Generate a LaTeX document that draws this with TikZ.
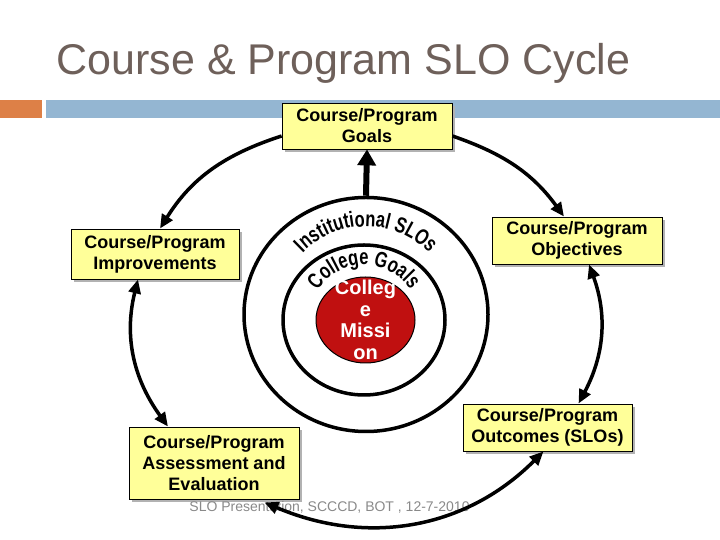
\documentclass[tikz,border=0pt]{standalone}
\usepackage{fontspec}
\setmainfont{Liberation Sans}
\newfontfamily\arcfont[FakeStretch=0.75]{Liberation Sans}
\usepackage{tikz}
\usetikzlibrary{positioning, arrows.meta, shapes.geometric, shadows, decorations.text}
\usepackage{xcolor}

\definecolor{boxyellow}{RGB}{255,255,153}
\definecolor{missionred}{RGB}{192,16,16}
\definecolor{titlegray}{RGB}{110,96,90}
\definecolor{barorange}{RGB}{221,128,71}
\definecolor{barblue}{RGB}{148,182,210}
\definecolor{footgray}{RGB}{137,137,137}

\begin{document}
\begin{tikzpicture}[x=1pt, y=1pt, >={Triangle[length=14pt, width=12pt]},
    slobox/.style={draw, line width=0.8pt, fill=boxyellow, align=center, inner sep=0pt,
      font=\fontsize{18}{21}\selectfont\bfseries,
      drop shadow={shadow xshift=3pt, shadow yshift=-3pt, fill=black!30, opacity=1}},
    ring/.style={draw, ellipse, line width=3.5pt, inner sep=0pt},
    cycleline/.style={line width=3.5pt}]
    \useasboundingbox (0,0) rectangle (720,540);
    % title and header bars
    \node[anchor=base west, text=titlegray, font=\fontsize{43}{50}\selectfont] (title) at (53,465) {Course \& Program SLO Cycle};
    \fill[barorange] (0,422) rectangle (42,440);
    \fill[barblue] (46,422) rectangle (720,440);

    % the five boxes
    \node[slobox, minimum width=170, minimum height=46] (goals) at (367,414) {Course/Program\\Goals};
    \node[slobox, minimum width=170, minimum height=47] (objectives) at (577,299.5) {Course/Program\\Objectives};
    \node[slobox, minimum width=168, minimum height=50] (improvements) at (155,286) {Course/Program\\Improvements};
    \node[slobox, minimum width=170, minimum height=72] (assessment) at (214,77) {Course/Program\\Assessment and\\Evaluation};
    \node[slobox, minimum width=169, minimum height=47] (outcomes) at (547.5,112.5) {Course/Program\\Outcomes (SLOs)};

    % rings in the middle
    \node[ring, minimum width=244, minimum height=234] (outer) at (366,225.5) {};
    \node[ring, minimum width=162, minimum height=150] (middle) at (364,220) {};
    \node[draw, ellipse, line width=1pt, fill=missionred, inner sep=0pt, minimum width=99, minimum height=86,
      label={[text=white, align=center, font=\fontsize{20}{21.5}\selectfont\bfseries]center:Colleg\\e\\Missi\\on}] (mission) at (365.5,220) {};
    \path[decorate, decoration={text along path, text align=center,
      text={|\arcfont\fontsize{22}{22}\selectfont\bfseries|Institutional SLOs}}]
      (outer.center) ++(180:88) arc[start angle=180, end angle=0, radius=88];
    \path[decorate, decoration={text along path, text align=center,
      text={|\arcfont\fontsize{22}{22}\selectfont\bfseries|College Goals}}]
      (middle.center) ++(180:55) arc[start angle=180, end angle=0, radius=55];

    \node[text=footgray, font=\fontsize{14}{16}\selectfont] (footer) at (329.5,32.5) {SLO Presentation, SCCCD, BOT , 12-7-2010};

    % arrows
    \draw[line width=6pt, -{Triangle[length=16pt, width=18pt]}] (outer.north) -- (goals.south);
    \draw[cycleline, ->] ([yshift=-10pt]goals.east) to[out=-19, in=126] ([xshift=-13pt]objectives.north);
    \draw[cycleline, ->] ([yshift=-10pt]goals.west) to[out=198, in=58] ([xshift=5pt]improvements.north);
    \draw[cycleline, <->] ([xshift=12pt]objectives.south) to[out=-70, in=62] ([xshift=31pt]outcomes.north);
    \draw[cycleline, <->] ([xshift=-17pt]improvements.south) to[out=256, in=126] ([xshift=-46pt]assessment.north);
    \draw[cycleline, <->] ([xshift=-4pt]outcomes.south) to[out=225, in=-23] ([xshift=-35pt, yshift=-3pt]assessment.south east);
  \end{tikzpicture}
\end{document}
